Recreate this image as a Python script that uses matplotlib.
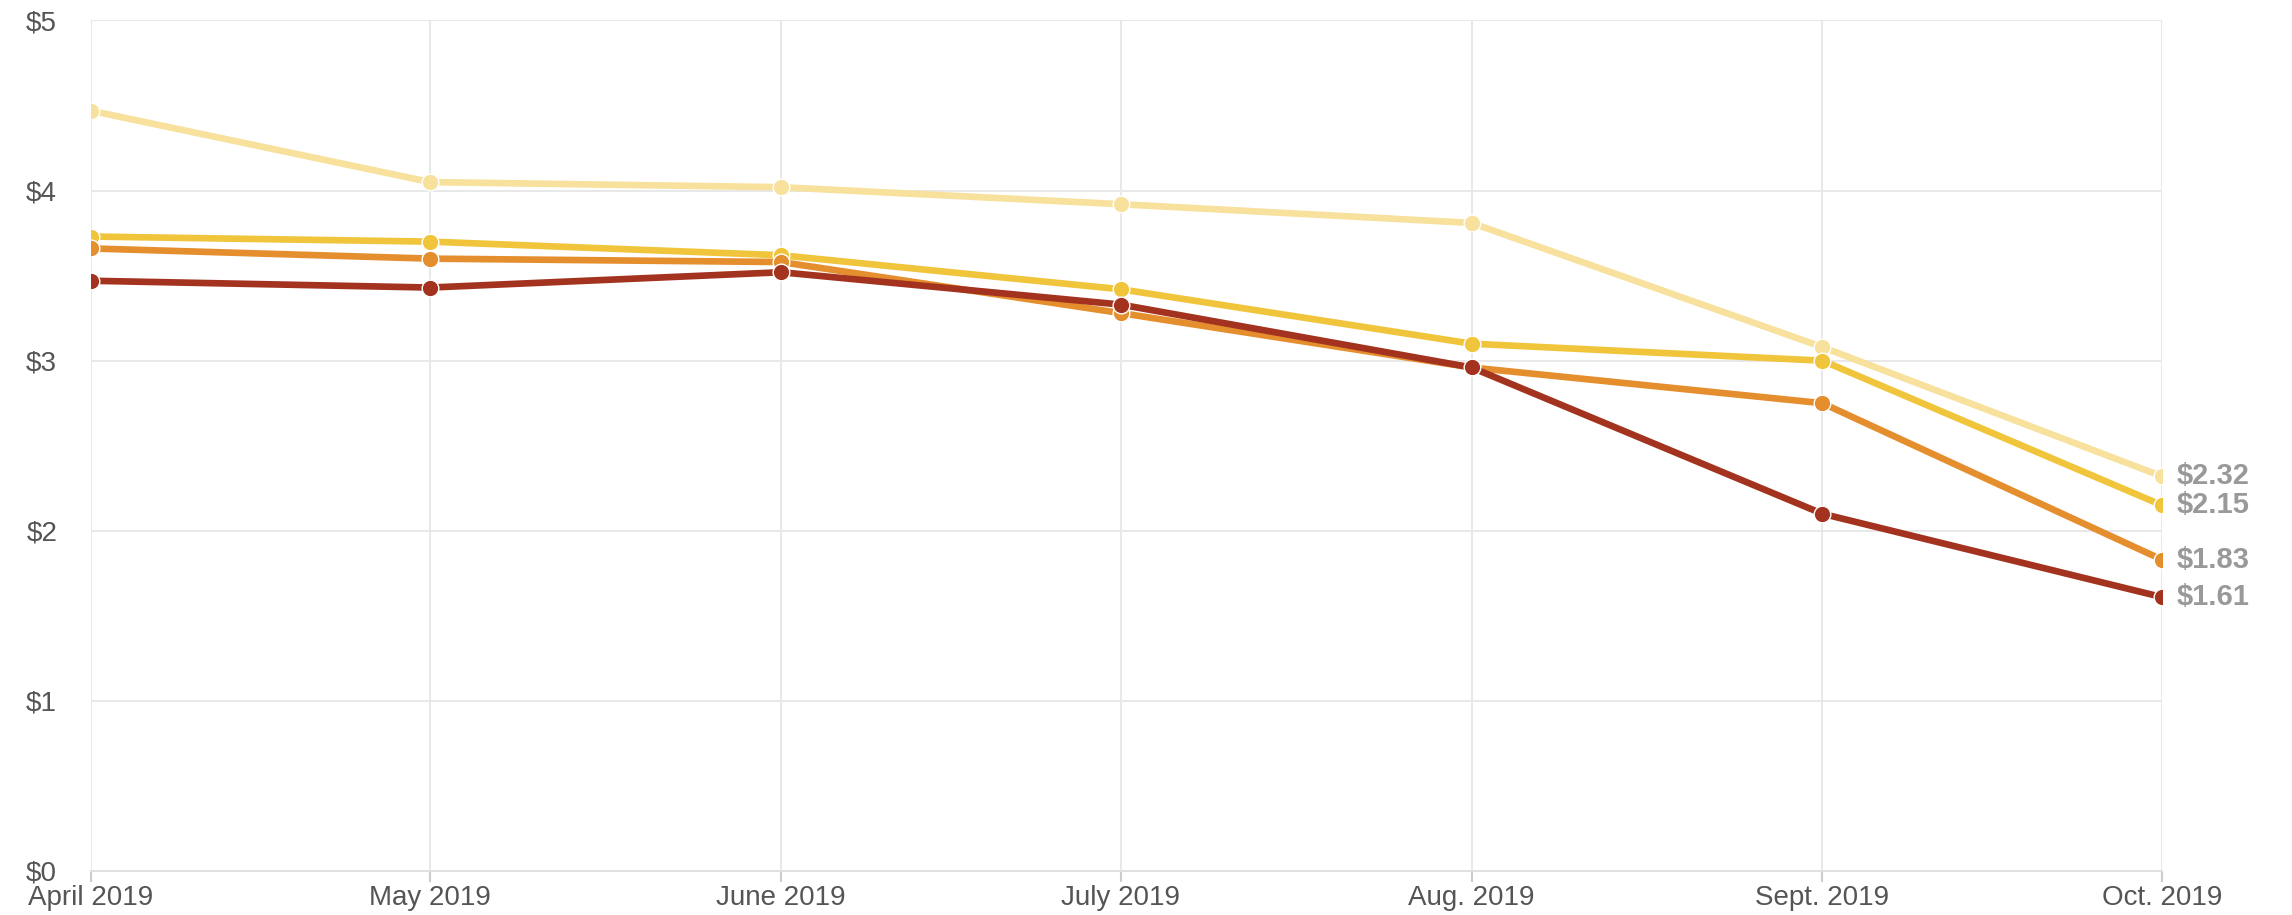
import matplotlib
matplotlib.use("Agg")
import matplotlib.pyplot as plt
from datetime import date

plt.rcParams['font.family'] = ['Liberation Sans', 'DejaVu Sans']

months = [date(2019, 4, 1), date(2019, 5, 1), date(2019, 6, 1), date(2019, 7, 1),
          date(2019, 8, 1), date(2019, 9, 1), date(2019, 10, 1)]
month_labels = ["April 2019", "May 2019", "June 2019", "July 2019",
                "Aug. 2019", "Sept. 2019", "Oct. 2019"]

series_a = [4.47, 4.05, 4.02, 3.92, 3.81, 3.08, 2.32]   # light yellow
series_b = [3.73, 3.70, 3.62, 3.42, 3.10, 3.00, 2.15]   # yellow
series_c = [3.66, 3.60, 3.58, 3.28, 2.96, 2.75, 1.83]   # orange
series_d = [3.47, 3.43, 3.52, 3.33, 2.96, 2.10, 1.61]   # dark red

y_ticks = [0, 1, 2, 3, 4, 5]
y_labels = ["$0", "$1", "$2", "$3", "$4", "$5"]

colors = ["#f7e19c", "#f0c53b", "#e58e2e", "#a3331f"]
series = [series_a, series_b, series_c, series_d]

fig = plt.figure(figsize=(22.92, 9.15), dpi=100)
ax = fig.add_axes([0.0395, 0.0481, 0.9038, 0.9295])

for vals, col in zip(series, colors):
    ax.plot(months, vals, color=col, lw=4.8, marker='o', markersize=12,
            markerfacecolor=col, markeredgecolor='white', markeredgewidth=1.0,
            solid_capstyle='round', zorder=3)
    ax.annotate("$%.2f" % vals[-1], xy=(months[-1], vals[-1]), xytext=(15, 0),
                textcoords='offset pixels', ha='left', va='center',
                fontsize=21, fontweight='bold', color='#999999', zorder=4,
                annotation_clip=False)

ax.set_xlim(months[0], months[-1])
ax.set_ylim(0, 5)
ax.set_xticks(months)
ax.set_xticklabels(month_labels)
ax.set_yticks(y_ticks)
ax.set_yticklabels(y_labels)

ax.grid(True, color='#e8e8e8', lw=1.4, zorder=0)
for s in ['top', 'right', 'left']:
    ax.spines[s].set_visible(False)
ax.spines['bottom'].set_color('#e0e0e0')
ax.spines['bottom'].set_linewidth(1.4)

ax.tick_params(axis='x', length=8, width=1.5, color='#cccccc', pad=2,
               labelsize=20, labelcolor='#555555')
ax.tick_params(axis='y', length=0, pad=24, labelsize=20, labelcolor='#555555')

fig.savefig("out.png", dpi=100, facecolor='white')
